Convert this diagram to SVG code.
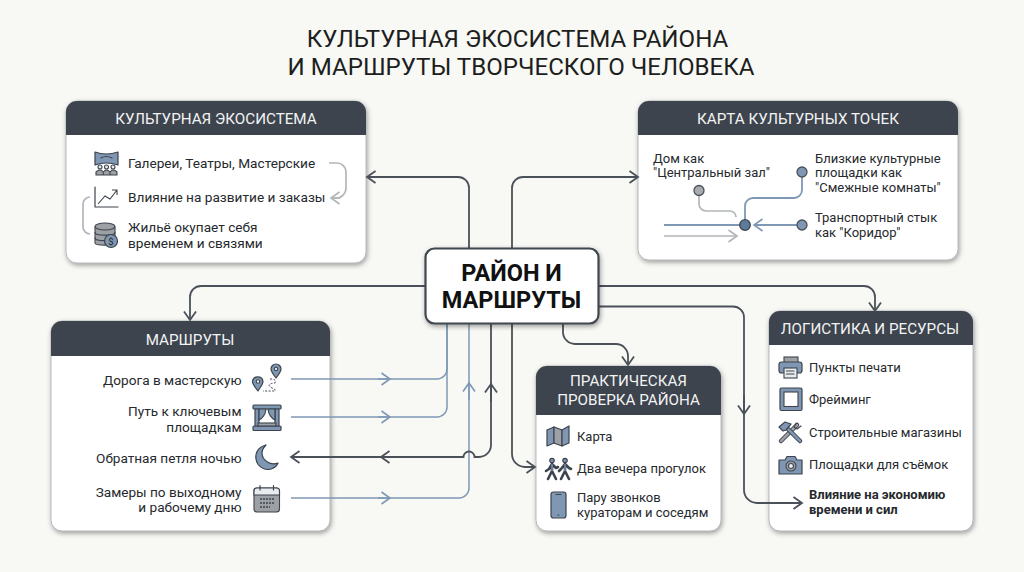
<svg xmlns="http://www.w3.org/2000/svg" width="1024" height="572" viewBox="0 0 1024 572">
<style>
text{font-family:Roboto,"Liberation Sans",sans-serif;fill:#26292d}
.t{font-size:24.1px;text-anchor:middle;fill:#1c1e20}
.h{font-size:15.2px;text-anchor:middle;fill:#f2f3f4}
.b{font-size:13.65px}
.r{font-size:13.6px;text-anchor:end}
.s{font-size:13px}
.bold{font-weight:700}
.hub{font-size:23.5px;font-weight:700;text-anchor:middle;fill:#111}
.card{fill:#fff;stroke:#9a9ea3;stroke-width:.7}
.head{fill:#3d444d}
.d{fill:none;stroke:#4a5159;stroke-width:1.8}
.u{fill:none;stroke:#7f98b5;stroke-width:1.5}
.u2{fill:none;stroke:#7f98b5;stroke-width:1.8}
.g{fill:none;stroke:#b3b6b8;stroke-width:1.7}
.dm{marker-end:url(#ad)}
.um{marker-end:url(#au)}
.gm{marker-end:url(#ag)}
.i{fill:#7f97b3;stroke:#3d444d;stroke-width:1.2;stroke-linejoin:round}
.l{fill:none;stroke:#3d444d;stroke-width:1.2;stroke-linejoin:round;stroke-linecap:round}
.w{fill:#e9ecef;stroke:#3d444d;stroke-width:1.1}
.k{fill:#9da1a5;stroke:#3d444d;stroke-width:1.1}
</style>
<defs>
<filter id="sh" x="-10%" y="-10%" width="120%" height="120%"><feDropShadow dx="1" dy="2" stdDeviation="2.5" flood-color="#000" flood-opacity=".38"/></filter>
<marker id="ad" markerUnits="userSpaceOnUse" markerWidth="16" markerHeight="16" refX="12" refY="8" orient="auto"><path d="M3.500 2 L12 8 L3.500 14" fill="none" stroke="#4a5159" stroke-width="1.800"/></marker>
<marker id="au" markerUnits="userSpaceOnUse" markerWidth="16" markerHeight="16" refX="12" refY="8" orient="auto"><path d="M3.500 2 L12 8 L3.500 14" fill="none" stroke="#7f98b5" stroke-width="1.600"/></marker>
<marker id="ag" markerUnits="userSpaceOnUse" markerWidth="16" markerHeight="16" refX="12" refY="8" orient="auto"><path d="M3.500 2 L12 8 L3.500 14" fill="none" stroke="#b3b6b8" stroke-width="1.700"/></marker>
</defs>
<rect width="1024" height="572" fill="#f8f8f5"/>
<g id="title">
<text class="t" x="517.500" y="47">КУЛЬТУРНАЯ ЭКОСИСТЕМА РАЙОНА</text>
<text class="t" x="521" y="75">И МАРШРУТЫ ТВОРЧЕСКОГО ЧЕЛОВЕКА</text>
</g>

<g id="node-ecosystem">
<rect class="card" x="66" y="101" width="300" height="162" rx="11" filter="url(#sh)"/>
<path class="head" d="M66 135V112a11 11 0 0 1 11-11H355a11 11 0 0 1 11 11V135Z"/>
<text class="h" x="216" y="124">КУЛЬТУРНАЯ ЭКОСИСТЕМА</text>
<text class="b" x="128" y="168">Галереи, Театры, Мастерские</text>
<text class="b" x="128" y="202">Влияние на развитие и заказы</text>
<text class="b" x="128" y="232">Жильё окупает себя</text>
<text class="b" x="128" y="248">временем и связями</text>
<g id="icon-gallery">
<path class="i" d="M95 152Q106 156 118 152V165Q106 161 95 165Z"/>
<path class="l" d="M101 158Q106 155 112 158"/>
<circle class="w" cx="100" cy="167" r="2"/><circle class="w" cx="106.500" cy="167" r="2"/><circle class="w" cx="113" cy="167" r="2"/>
<path class="k" d="M96 175V172Q100 168 103.300 172V175ZM103.300 175V172Q106.500 168 110 172V175ZM110 175V172Q113 168 117 172V175Z"/>
</g>
<g id="icon-chart">
<path class="l" d="M95 187V207H118"/>
<path d="M98 204L105 196L110 199L117 190M112 190H117V195" fill="none" stroke="#3d444d" stroke-width="1.100"/>
</g>
<g id="icon-db">
<path class="k" d="M95 227V243C95 246 115 246 115 243V227Z"/>
<ellipse class="k" cx="105" cy="226.500" rx="10" ry="3.500"/>
<path class="l" d="M95 232.500C95 236 115 236 115 232.500M95 238C95 241.500 115 241.500 115 238"/>
<circle class="i" cx="111" cy="241" r="6.500"/>
<text x="111" y="244.500" font-size="9.500" text-anchor="middle">$</text>
</g>
</g>

<g id="node-map">
<rect class="card" x="638" y="101" width="320" height="159" rx="11" filter="url(#sh)"/>
<path class="head" d="M638 135V112a11 11 0 0 1 11-11H947a11 11 0 0 1 11 11V135Z"/>
<text class="h" x="798" y="124">КАРТА КУЛЬТУРНЫХ ТОЧЕК</text>
<text class="s" x="653" y="163">Дом как</text>
<text class="s" x="653" y="177">"Центральный зал"</text>
<text class="s" x="815" y="163">Близкие культурные</text>
<text class="s" x="815" y="177">площадки как</text>
<text class="s" x="815" y="192">"Смежные комнаты"</text>
<text class="s" x="815" y="222">Транспортный стык</text>
<text class="s" x="815" y="237">как "Коридор"</text>
</g>

<g id="node-routes">
<rect class="card" x="51" y="321" width="279" height="210" rx="11" filter="url(#sh)"/>
<path class="head" d="M51 356V332a11 11 0 0 1 11-11H319a11 11 0 0 1 11 11V356Z"/>
<text class="h" x="190" y="345">МАРШРУТЫ</text>
<text class="r" x="241.500" y="385">Дорога в мастерскую</text>
<text class="r" x="241.500" y="416">Путь к ключевым</text>
<text class="r" x="241.500" y="432">площадкам</text>
<text class="r" x="241.500" y="463">Обратная петля ночью</text>
<text class="r" x="241.500" y="497">Замеры по выходному</text>
<text class="r" x="241.500" y="512">и рабочему дню</text>
<g id="icon-pins">
<path class="i" d="M258 391C254 386 252.500 384 252.500 381.500A5.300 5.300 0 0 1 263 381.500C263 384 261 386 258 391Z"/><circle class="w" cx="258" cy="381.500" r="1.800"/>
<path class="i" d="M276 378C272.500 373.500 271 371 271 369A5 5 0 0 1 281 369C281 371 279.500 373.500 276 378Z"/><circle class="w" cx="276" cy="369" r="1.700"/>
<path d="M270 379Q277 379 275 383Q265 384 272 388Q279 391 272 391H263" fill="none" stroke="#3d444d" stroke-width="1" stroke-dasharray="2 1.500"/>
</g>
<g id="icon-stage">
<rect class="i" x="253" y="405" width="28" height="4" rx="1"/>
<rect class="i" x="253" y="426" width="28" height="4.500" rx="1"/>
<rect class="i" x="255" y="409" width="4" height="17"/><rect class="i" x="275" y="409" width="4" height="17"/>
<path class="i" d="M259 409H266Q265 417 259 420ZM275 409H268Q269 417 275 420Z"/>
<rect class="k" x="258" y="423" width="18" height="3"/>
</g>
<path id="icon-moon" class="i" d="M266 445C258 447 255 453 256 459C257 466 264 471 271 469C274 468 277 466 278 463C270 466 262 460 262 453C262 450 264 447 266 445Z"/>
<g id="icon-calendar">
<rect class="k" x="254" y="488" width="25.500" height="24" rx="3"/>
<path class="w" d="M254 495V491a3 3 0 0 1 3-3H276.500a3 3 0 0 1 3 3V495Z"/>
<path class="l" d="M260 485.500V490M273.500 485.500V490"/>
<path d="M260 499H274M260 503H274M260 507H270" stroke="#3d444d" stroke-width="1.500" stroke-dasharray="2 1"/>
</g>
</g>

<g id="node-practice">
<rect class="card" x="536" y="366" width="185" height="165" rx="11" filter="url(#sh)"/>
<path class="head" d="M536 415V377a11 11 0 0 1 11-11H710a11 11 0 0 1 11 11V415Z"/>
<text class="h" x="628.500" y="386">ПРАКТИЧЕСКАЯ</text>
<text class="h" x="628.500" y="405">ПРОВЕРКА РАЙОНА</text>
<text class="s" x="577" y="441">Карта</text>
<text class="s" x="577" y="473">Два вечера прогулок</text>
<text class="s" x="577" y="502">Пару звонков</text>
<text class="s" x="577" y="517">кураторам и соседям</text>
<g id="icon-map">
<path class="i" d="M547 430L554 427V443L547 446Z"/><path class="k" d="M554 427L562 430V446L554 443Z"/><path class="i" d="M562 430L569 426V443L562 446Z"/>
</g>
<g id="icon-walkers">
<circle class="i" cx="552" cy="460.500" r="2.200"/><circle class="i" cx="565" cy="460.500" r="2.200"/>
<path d="M552 464L549 469L546 471M552 464L556 468L558 467M552 464V471L548 479M552 471L556 479M565 464L561 469L559 471M565 464L569 468L571 469M565 464V471L561 479M565 471L569 479" fill="none" stroke="#3d444d" stroke-width="2.600" stroke-linecap="round" stroke-linejoin="round"/>
<path d="M552 464V471M565 464V471" fill="none" stroke="#7f97b3" stroke-width="1.400"/>
</g>
<g id="icon-phone">
<rect class="i" x="551" y="492" width="15" height="26" rx="2.500"/>
<path class="l" d="M556 494.500H561M558 515H559"/>
</g>
</g>

<g id="node-logistics">
<rect class="card" x="769" y="311" width="204" height="220" rx="11" filter="url(#sh)"/>
<path class="head" d="M769 345V322a11 11 0 0 1 11-11H962a11 11 0 0 1 11 11V345Z"/>
<text class="h" x="870" y="334">ЛОГИСТИКА И РЕСУРСЫ</text>
<text class="s" x="809" y="372">Пункты печати</text>
<text class="s" x="809" y="404">Фрейминг</text>
<text class="s" x="809" y="437">Строительные магазины</text>
<text class="s" x="809" y="469">Площадки для съёмок</text>
<text class="s bold" x="809" y="499">Влияние на экономию</text>
<text class="s bold" x="809" y="514">времени и сил</text>
<g id="icon-printer">
<rect class="k" x="784" y="357" width="14" height="6"/>
<rect class="i" x="779" y="362" width="23" height="11" rx="2.500"/>
<rect class="w" x="784" y="368" width="13" height="10"/>
<path class="l" d="M786.500 371H794M786.500 374H794"/>
</g>
<g id="icon-frame">
<rect class="i" x="780" y="388" width="22" height="22.500" rx="1.500"/>
<rect x="784" y="392" width="14" height="14.500" fill="#fff" stroke="#3d444d" stroke-width="1.100"/>
</g>
<g id="icon-tools">
<path d="M781 441L797 425" stroke="#3d444d" stroke-width="4.500" stroke-linecap="round"/>
<path d="M781 441L797 425" stroke="#9da1a5" stroke-width="2.500" stroke-linecap="round"/>
<path d="M800 441L786 427" stroke="#3d444d" stroke-width="4.500" stroke-linecap="round"/>
<path d="M800 441L786 427" stroke="#7f97b3" stroke-width="2.500" stroke-linecap="round"/>
<path class="i" d="M779 427L785 422L791 424L786 430L783 431Z"/>
<path class="l" d="M796 423.500L794 427L797 429L801 426"/>
</g>
<g id="icon-camera">
<path class="i" d="M779 460H785L787 456.500H795L797 460H802V474H779Z"/>
<circle class="k" cx="791" cy="466" r="5"/>
<circle class="w" cx="791" cy="466" r="2.500"/>
</g>
</g>

<g id="connectors">
<path class="d dm" d="M469 248V188a11 11 0 0 0-11-11H367"/>
<path class="d dm" d="M512 248V188a11 11 0 0 1 11-11H638"/>
<path class="d dm" d="M425 286H201a11 11 0 0 0-11 11V320"/>
<path class="d dm" d="M598 286H864a11 11 0 0 1 11 11V311"/>
<path class="d dm" d="M598 306.500H733a11 11 0 0 1 11 11V490a13 13 0 0 0 13 13H802"/>
<path class="d dm" d="M744 395V414"/>
<path class="d dm" d="M563 324V332a12 12 0 0 0 12 12H616a12 12 0 0 1 12 12V365"/>
<path class="u" d="M291 379H437a10 10 0 0 0 10-10V324"/>
<path class="u um" d="M378 379H390"/>
<path class="u" d="M291 417H437a10 10 0 0 0 10-10V324"/>
<path class="u um" d="M378 417H390"/>
<path class="u" d="M291 498H459a10 10 0 0 0 10-10V324"/>
<path class="u um" d="M378 498H390"/>
<path class="u um" d="M469 400V383"/>
<path class="d" d="M491 324V445a12 12 0 0 1-12 12H474.500a5.500 5.500 0 0 0-11 0H291"/>
<path class="d dm" d="M400 457H381"/>
<path class="d dm" d="M320 457H291"/>
<path class="d dm" d="M491 402V384"/>
<path class="d dm" d="M512 324V454a13 13 0 0 0 13 13H535"/>
<path class="g" d="M329 163H337a9 9 0 0 1 9 9V188a10 10 0 0 1-10 10H331"/>
<path class="g gm" d="M340 198H331"/>
<path class="g" d="M90 197a7 7 0 0 0-7 7V227a7 7 0 0 0 7 7"/>
<path class="g" d="M699 195V204a7 7 0 0 0 7 7H730a6 6 0 0 1 6 6"/>
<path class="u2" d="M802 177V190a8 8 0 0 1-8 8H753a8 8 0 0 0-8 8V220"/>
<path class="u2 um" d="M797 225H754"/>
<path class="u2" d="M664 225H740"/>
<path class="g gm" d="M664 236H737"/>
<circle cx="699" cy="190.500" r="5" fill="#a9acae" stroke="#4a5159" stroke-width="1.300"/>
<circle cx="802" cy="172" r="5" fill="#7f97b3" stroke="#4a5159" stroke-width="1.300"/>
<circle cx="745" cy="225" r="5.300" fill="#5f7b9b" stroke="#3d444d" stroke-width="1.300"/>
<circle cx="802" cy="225" r="5" fill="#7f97b3" stroke="#4a5159" stroke-width="1.300"/>
</g>

<g id="node-hub">
<rect x="425.500" y="248.500" width="173" height="75" rx="9" fill="#fff" stroke="#3f464e" stroke-width="2.200" filter="url(#sh)"/>
<text class="hub" x="511.500" y="281">РАЙОН И</text>
<text class="hub" x="511.500" y="308">МАРШРУТЫ</text>
</g>
</svg>
